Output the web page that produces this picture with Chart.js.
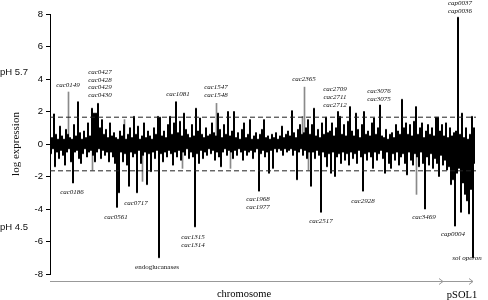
<!DOCTYPE html>
<html>
<head>
<meta charset="utf-8">
<script src="https://cdn.jsdelivr.net/npm/chart.js@4.4.0/dist/chart.umd.min.js"></script>
<style>
  body { margin: 0; background: #fff; }
</style>
</head>
<body>
<canvas id="expr" width="488" height="300"></canvas>
<script>
// highest / lowest log expression in each slice of the genome, left to right
const upperPeaks = [
  1.5, 0.4, 1.85, 0.6, 0.3, 1.1, 0.5, 0.3, 0.9, 0.6,
  0.4, 0.3, 1.2, 0.5, 2.6, 0.7, 0.3, 0.8, 0.4, 1.3,
  0.5, 2.2, 1.9, 1.9, 2.5, 1.0, 1.5, 0.6, 0.9, 0.4,
  1.3, 0.5, 0.7, 0.4, 0.3, 0.8, 0.5, 1.2, 0.3, 0.6,
  1.0, 0.4, 1.7, 0.6, 1.1, 0.3, 0.5, 1.3, 0.4, 0.8,
  0.5, 0.3, 1.0, 0.6, 1.7, 1.65, 0.5, 0.8, 0.4, 1.2,
  1.7, 0.6, 1.3, 2.6, 0.7, 1.4, 0.5, 1.9, 0.9, 0.6,
  0.4, 1.2, 0.5, 2.2, 0.8, 1.6, 0.6, 0.4, 1.0, 0.5,
  0.6, 1.3, 0.7, 0.5, 1.9, 0.9, 0.4, 1.2, 0.6, 2.0,
  0.5, 0.8, 2.0, 0.4, 0.7, 0.3, 0.9, 1.3, 0.4, 0.6,
  1.5, 0.3, 0.5, 0.7, 0.3, 0.6, 0.9, 1.5, 0.4, 0.5,
  0.3, 0.6, 0.4, 0.7, 0.3, 0.5, 1.1, 0.4, 0.6, 0.8,
  0.5, 2.05, 0.7, 0.4, 0.9, 1.2, 0.6, 0.7, 1.0, 1.5,
  0.6, 1.2, 2.2, 0.5, 0.9, 0.4, 1.3, 0.6, 1.65, 0.7,
  0.8, 1.3, 0.5, 1.0, 2.0, 1.7, 0.6, 1.2, 0.5, 1.4,
  2.3, 0.8, 0.5, 1.9, 0.9, 0.4, 1.2, 2.0, 0.6, 0.8,
  0.5, 1.3, 1.6, 0.6, 1.0, 2.4, 0.5, 0.4, 0.9, 0.3,
  0.6, 0.7, 0.4, 1.2, 0.8, 0.6, 2.75, 1.0, 1.3, 0.6,
  1.2, 0.5, 1.4, 2.3, 0.6, 1.0, 1.3, 0.4, 0.8, 1.2,
  0.6, 1.0, 0.5, 1.65, 1.65, 0.8, 1.2, 0.5, 1.3, 0.4,
  1.0, 0.5, 0.7, 0.8, 7.8, 0.6, 1.9, 0.4, 1.0, 0.3,
  0.6, 1.7, 1.0
];
const lowerPeaks = [
  -0.6, -0.3, -1.4, -0.5, -0.9, -0.4, -0.7, -1.3, -0.5, -0.3,
  -1.1, -2.4, -0.5, -0.4, -0.9, -1.2, -0.6, -0.3, -0.8, -0.5,
  -0.4, -0.7, -1.1, -0.5, -0.3, -0.9, -0.4, -0.7, -0.5, -1.1,
  -0.5, -0.8, -1.2, -3.9, -3.0, -0.5, -1.1, -0.6, -1.3, -2.6,
  -0.5, -0.8, -0.6, -3.0, -0.4, -1.2, -0.7, -0.5, -2.5, -0.6,
  -1.7, -0.5, -0.9, -0.4, -7.0, -0.6, -1.1, -0.5, -0.8, -0.4,
  -0.6, -1.3, -0.5, -0.8, -0.4, -1.0, -0.5, -0.7, -0.3, -0.9,
  -0.5, -0.8, -5.1, -0.6, -1.2, -0.4, -0.9, -0.5, -0.7, -0.3,
  -0.6, -0.4, -1.0, -0.5, -0.8, -1.4, -0.5, -0.3, -0.7, -0.4,
  -0.5, -0.9, -0.4, -0.7, -0.3, -0.5, -1.0, -0.4, -0.7, -0.5,
  -0.4, -0.9, -0.5, -0.3, -2.9, -0.6, -0.4, -0.8, -0.5, -1.8,
  -0.4, -1.5, -0.3, -0.5, -0.3, -0.4, -0.7, -0.3, -0.5, -0.4,
  -0.3, -0.7, -0.4, -2.2, -0.5, -0.3, -0.7, -0.4, -0.9, -0.5,
  -2.6, -0.5, -0.9, -0.4, -0.7, -4.2, -0.5, -0.8, -1.4, -0.6,
  -1.8, -0.5, -2.0, -0.8, -0.6, -1.2, -0.5, -1.0, -0.6, -1.3,
  -0.5, -0.9, -0.6, -1.2, -0.4, -0.8, -2.9, -0.6, -1.0, -0.5,
  -0.8, -1.5, -0.5, -1.0, -0.6, -0.4, -0.9, -1.8, -0.5, -1.2,
  -1.5, -0.6, -1.0, -0.5, -1.3, -0.8, -0.6, -1.2, -1.9, -0.5,
  -1.0, -1.3, -0.6, -0.8, -1.4, -0.5, -1.2, -4.0, -0.8, -1.3,
  -0.6, -1.5, -0.9, -1.2, -2.0, -0.7, -1.3, -1.0, -1.6, -1.4,
  -2.5, -2.2, -5.05, -1.8, -1.5, -4.2, -2.4, -3.1, -3.5, -4.3,
  -2.8, -7.0, -1.2
];
// genes drawn in grey
const greyAt    = [9, 21, 37, 46, 66, 83, 90, 126, 127, 129, 183];
const greyValue = [3.2, -1.6, 1.5, -2.3, -1.5, 2.5, -1.5, 1.7, 3.5, -1.6, -3.1];

const cutoff = 1.65;
const yTicks = [8, 6, 4, 2, 0, -2, -4, -6, -8];
const regions = ['chromosome', 'pSOL1'];
const regionEnd = [196.5, 211.5];

// label lines, slice, log expression, upright
const geneNotes = [
  [['cac0149'], 9, 3.6],
  [['cac0427', 'cac0428', 'cac0429', 'cac0430'], 25, 4.43],
  [['cac0186'], 11, -2.95],
  [['cac0561'], 33, -4.5],
  [['cac0717'], 43, -3.63],
  [['endoglucanases'], 53.5, -7.57, true],
  [['cac1081'], 64, 3.08],
  [['cac1547', 'cac1548'], 83, 3.5],
  [['cac1315', 'cac1314'], 71.5, -5.72],
  [['cac1968', 'cac1977'], 104, -3.38],
  [['cac2365'], 127, 4.0],
  [['cac2517'], 135.5, -4.74],
  [['cac2709', 'cac2711', 'cac2712'], 142.5, 3.38],
  [['cac3076', 'cac3075'], 164.5, 3.26],
  [['cac2928'], 156.5, -3.5],
  [['cac3469'], 187, -4.5],
  [['cap0037', 'cap0036'], 205, 8.68],
  [['cap0004'], 201.5, -5.54],
  [['sol operon'], 208.5, -7.0]
];

const trace = [];
upperPeaks.forEach((v, i) => {
  trace.push({x: i, y: v});
  trace.push({x: i + 0.5, y: lowerPeaks[i]});
});
const greySpikes = greyAt.map((g, k) => ({x: g + 0.25, y: greyValue[k]}));
const last = upperPeaks.length;

const annotate = {
  id: 'annotate',
  afterDraw(chart) {
    const {ctx, scales: {x, y}} = chart;
    ctx.save();
    ctx.fillStyle = '#111';
    ctx.textAlign = 'center';
    ctx.textBaseline = 'middle';
    geneNotes.forEach(([lines, gx, gy, upright]) => {
      ctx.font = (upright ? '' : 'italic ') + '7px "Liberation Serif"';
      lines.forEach((t, k) => ctx.fillText(t, x.getPixelForValue(gx), y.getPixelForValue(gy) + k * 7.8));
    });

    // side labels
    ctx.font = '9.5px "Liberation Sans"';
    ctx.textAlign = 'left';
    ctx.fillText('pH 5.7', 0, y.getPixelForValue(4.43));
    ctx.fillText('pH 4.5', 0, y.getPixelForValue(-5.1));

    ctx.save();
    ctx.translate(16, y.getPixelForValue(0));
    ctx.rotate(-Math.PI / 2);
    ctx.textAlign = 'center';
    ctx.font = '11px "Liberation Serif"';
    ctx.fillText('log expression', 0, 0);
    ctx.restore();

    // genome arrows
    const ay = chart.chartArea.bottom + 7;
    ctx.strokeStyle = '#999';
    ctx.lineWidth = 1;
    ctx.beginPath();
    ctx.moveTo(x.left, ay + 0.5);
    ctx.lineTo(x.getPixelForValue(regionEnd[1]), ay + 0.5);
    regionEnd.forEach(r => {
      const px = x.getPixelForValue(r);
      ctx.moveTo(px - 4, ay - 2.5);
      ctx.lineTo(px, ay + 0.5);
      ctx.lineTo(px - 4, ay + 3.5);
    });
    ctx.stroke();

    ctx.textAlign = 'center';
    ctx.fillStyle = '#000';
    ctx.font = '10.5px "Liberation Serif"';
    ctx.fillText(regions[0], x.getPixelForValue(97), ay + 13);
    ctx.fillText(regions[1], x.getPixelForValue(206), ay + 14);
    ctx.restore();
  }
};

new Chart(document.getElementById('expr'), {
  type: 'line',
  data: {
    datasets: [
      {
        data: [{x: 0, y: cutoff}, {x: last, y: cutoff}],
        borderColor: '#222', borderWidth: 1, borderDash: [5, 3],
        pointRadius: 0, order: 0
      },
      {
        data: [{x: 0, y: -cutoff}, {x: last, y: -cutoff}],
        borderColor: '#222', borderWidth: 1, borderDash: [5, 3],
        pointRadius: 0, order: 0
      },
      {
        data: trace,
        borderColor: '#000', borderWidth: 1,
        stepped: 'middle',
        pointRadius: 0, order: 1
      },
      {
        type: 'bar',
        data: greySpikes,
        backgroundColor: '#8a8a8a',
        barThickness: 1,
        order: 2
      }
    ]
  },
  options: {
    responsive: false,
    animation: false,
    layout: { padding: { left: 0, right: 12, top: 14, bottom: 26 } },
    plugins: { legend: { display: false }, tooltip: { enabled: false } },
    scales: {
      x: { type: 'linear', min: 0, max: last, offset: false, display: false },
      y: {
        min: -8, max: 8,
        afterFit: s => { s.width = 50; },
        afterBuildTicks: s => { s.ticks = yTicks.map(v => ({value: v})); },
        ticks: { color: '#000', padding: 3, font: { family: 'Liberation Sans', size: 9.5 } },
        grid: { drawOnChartArea: false, drawTicks: true, tickLength: 4, color: '#000' },
        border: { color: '#000' }
      }
    }
  },
  plugins: [annotate]
});
</script>
</body>
</html>
